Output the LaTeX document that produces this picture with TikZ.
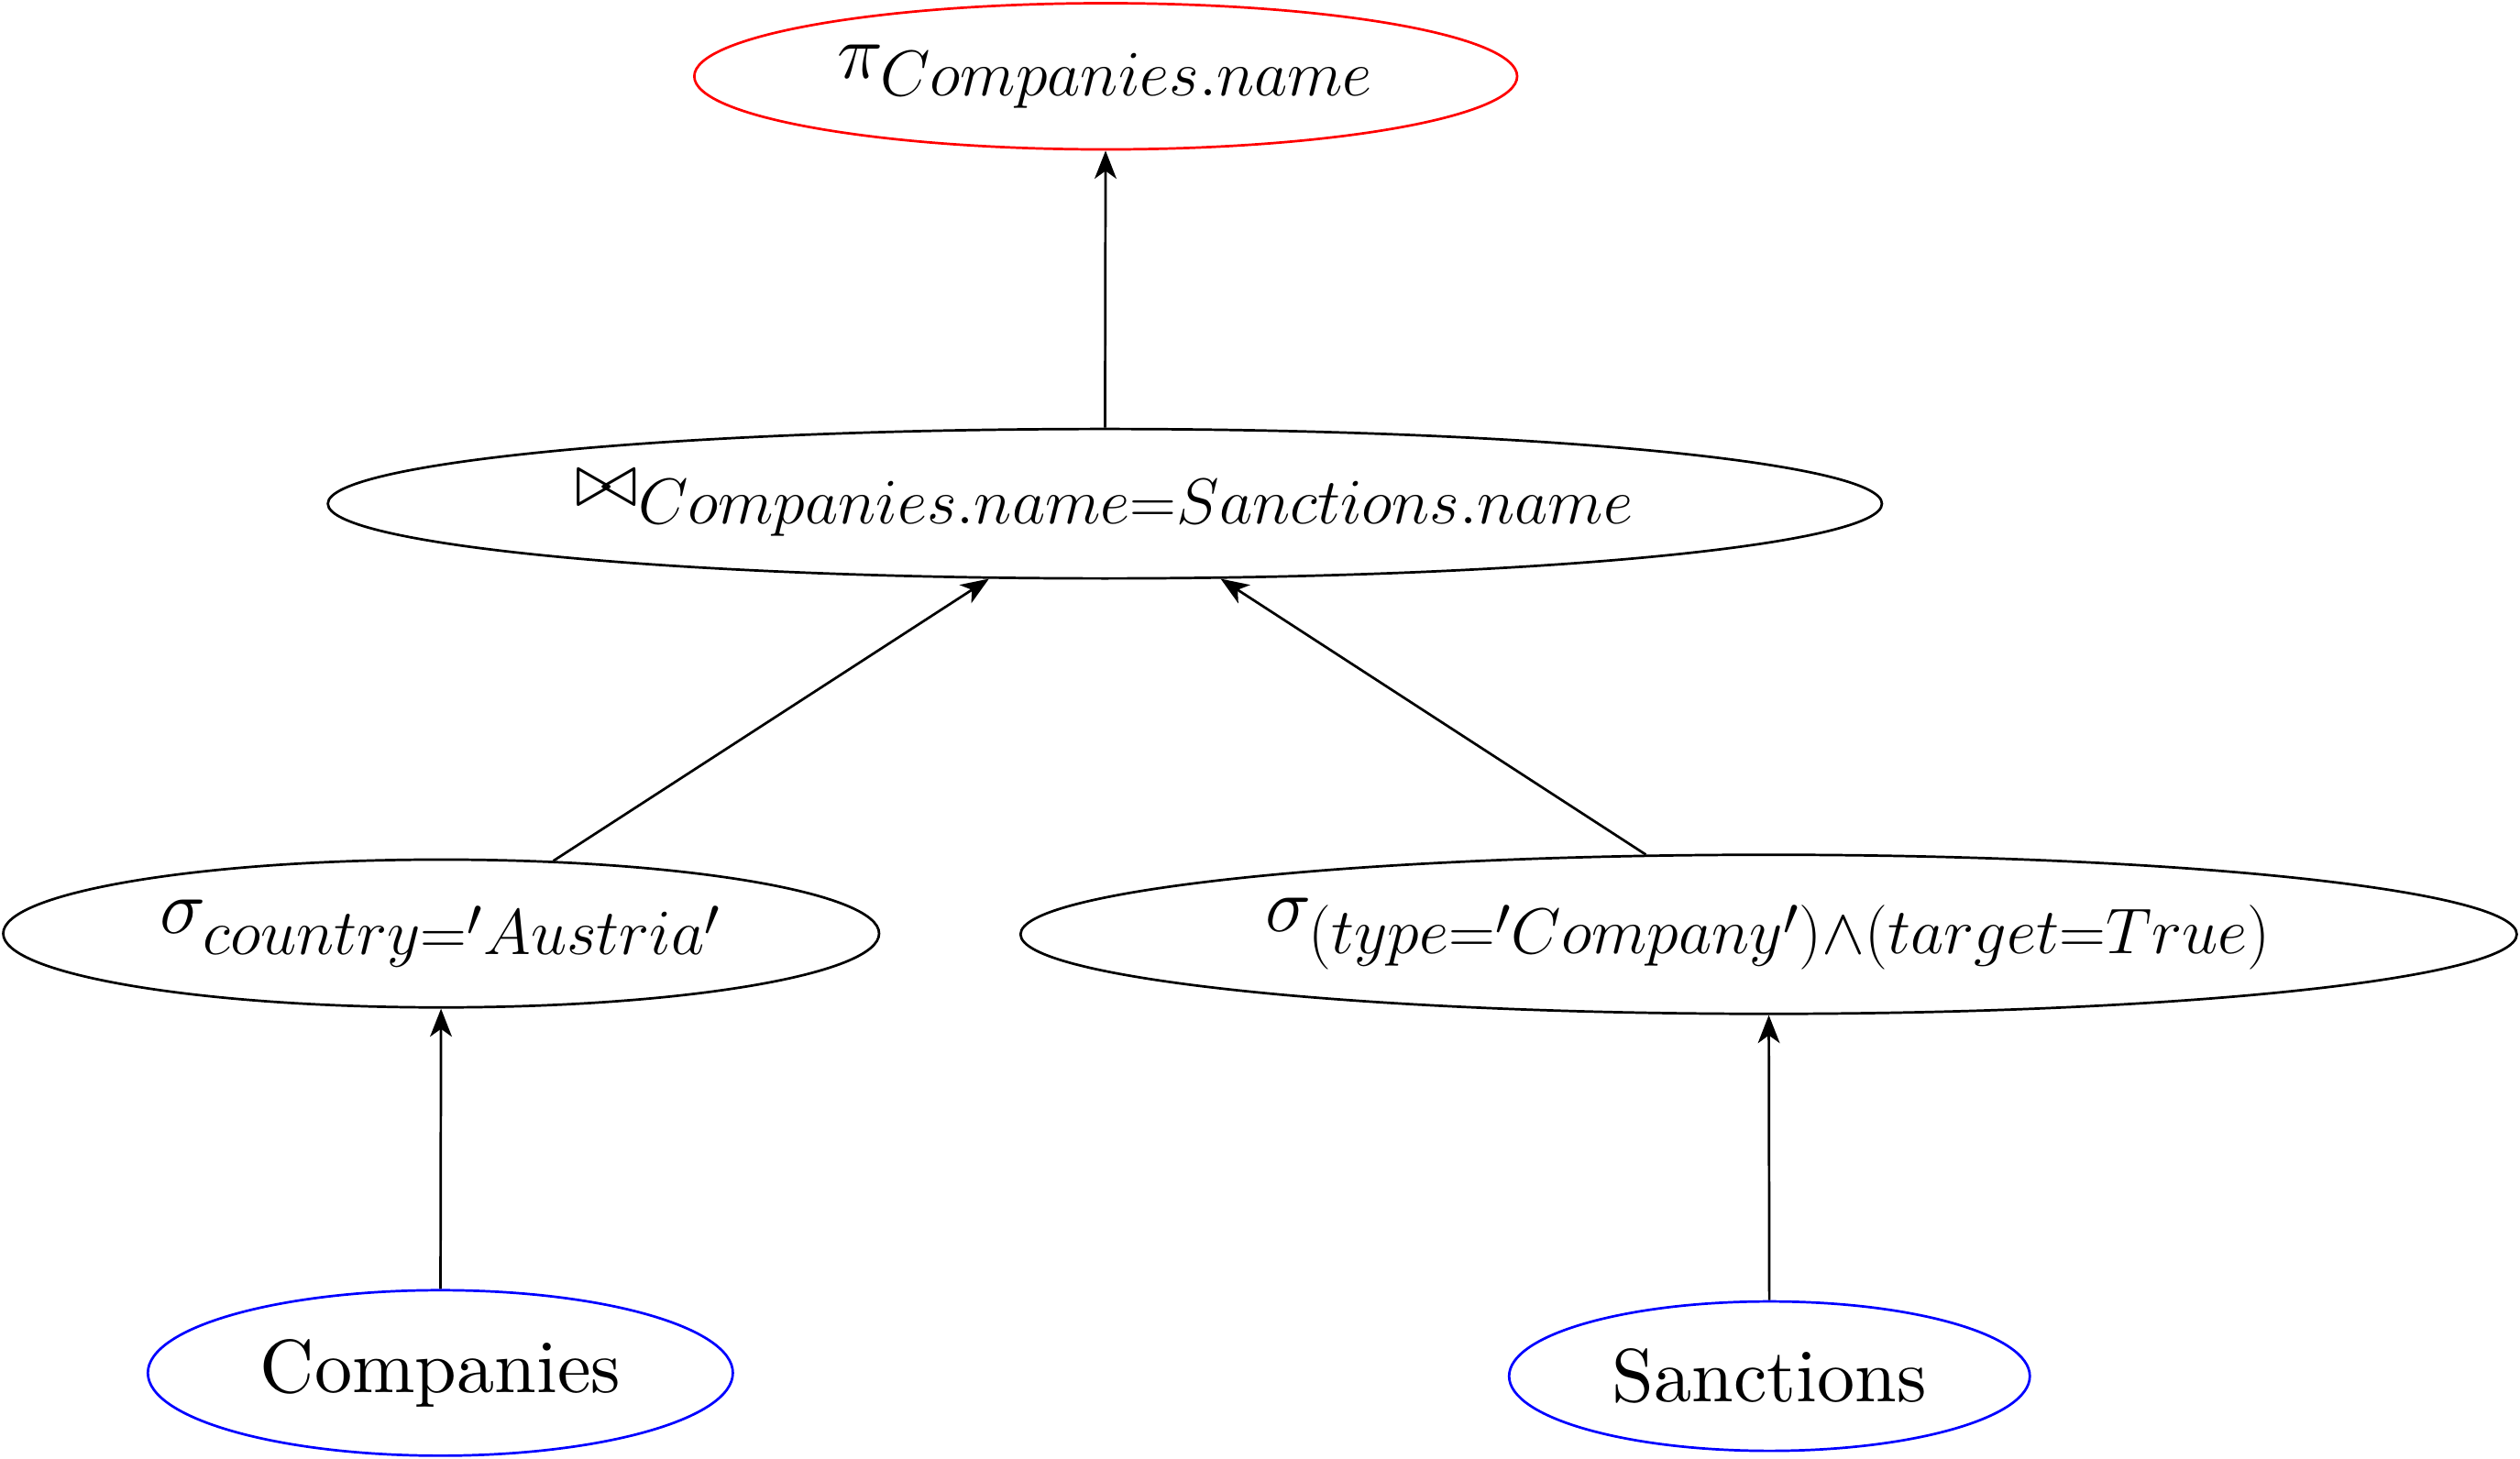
\documentclass[tikz,border=0pt]{standalone}
\usepackage{graphicx}
\usetikzlibrary{shapes.geometric,arrows.meta}
\begin{document}
\begin{tikzpicture}[x=0.516pt,y=-0.516pt,
  op/.style={ellipse,draw,line width=0.8pt,inner sep=0pt,font=\Huge},
  leaf/.style={ellipse,draw=blue,line width=0.8pt,inner sep=0pt,font=\normalsize},
  arr/.style={-{Stealth[length=9pt,width=7pt,inset=2.5pt]},line width=0.8pt}]
\useasboundingbox (0,0) rectangle (1568,908);
\node[op,draw=red,minimum width={512*0.516pt},minimum height={91*0.516pt}] (pi) at (688,47.5) {$\pi_{Companies.name}$};
\node[op,minimum width={967*0.516pt},minimum height={93*0.516pt}] (join) at (687.5,313.5) {$\bowtie_{Companies.name=Sanctions.name}$};
\node[op,minimum width={545*0.516pt},minimum height={92*0.516pt}] (sigL) at (274.5,581) {$\sigma_{country='Austria'}$};
\node[op,minimum width={931*0.516pt},minimum height={99*0.516pt}] (sigR) at (1100.5,581.5) {$\sigma_{(type='Company')\land(target=True)}$};
\node[leaf,minimum width={364*0.516pt},minimum height={103*0.516pt}] (comp) at (274,854.5) {\scalebox{2.42}{Companies}};
\node[leaf,minimum width={324*0.516pt},minimum height={93*0.516pt}] (sanc) at (1101,856.5) {\scalebox{2.42}{Sanctions}};
\draw[arr] (comp) -- (sigL);
\draw[arr] (sanc) -- (sigR);
\draw[arr] (sigL) -- (join);
\draw[arr] (sigR) -- (join);
\draw[arr] (join) -- (pi);
\end{tikzpicture}
\end{document}
